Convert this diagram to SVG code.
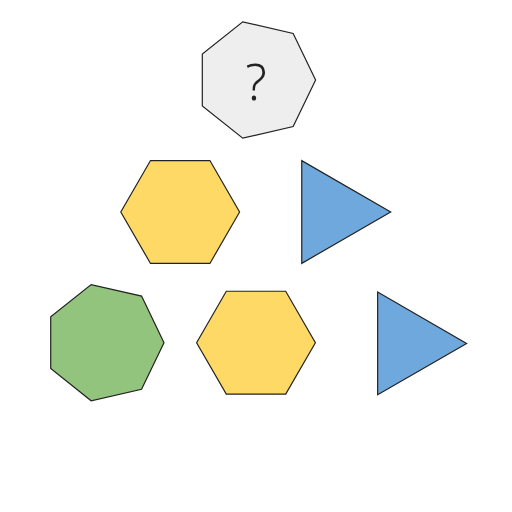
<svg xmlns="http://www.w3.org/2000/svg" width="512" height="512" viewBox="0 0 512 512">
<style>
.s{stroke:#222;stroke-width:1.2;stroke-linejoin:miter}
.gray{fill:#eeeeee}.yel{fill:#ffd966}.blue{fill:#6fa8dc}.green{fill:#93c47d}
.q{font-family:"Noto Sans","DejaVu Sans",sans-serif;font-size:50px;fill:#222;text-anchor:middle;font-weight:300}
</style>
<rect width="512" height="512" fill="#ffffff"/>
<g id="unknown">
<polygon class="s gray" points="315.6,80 293.16,126.6 242.74,138.1 202.3,105.86 202.3,54.14 242.74,21.9 293.16,33.4"/>
<text class="q" x="256" y="100">?</text>
</g>
<g id="hexagon1"><polygon class="s yel" points="239.6,212 209.9,263.44 150.5,263.44 120.8,212 150.5,160.56 209.9,160.56"/></g>
<g id="triangle1"><polygon class="s blue" points="390.7,212 301.75,263.35 301.75,160.65"/></g>
<g id="heptagon2"><polygon class="s green" points="164,342.7 141.56,389.3 91.14,400.8 50.7,368.56 50.7,316.84 91.14,284.6 141.56,296.1"/></g>
<g id="hexagon2"><polygon class="s yel" points="315.4,342.7 285.7,394.14 226.3,394.14 196.6,342.7 226.3,291.26 285.7,291.26"/></g>
<g id="triangle2"><polygon class="s blue" points="466.6,343.4 377.65,394.75 377.65,292.05"/></g>
<g id="connectors"/>
</svg>
